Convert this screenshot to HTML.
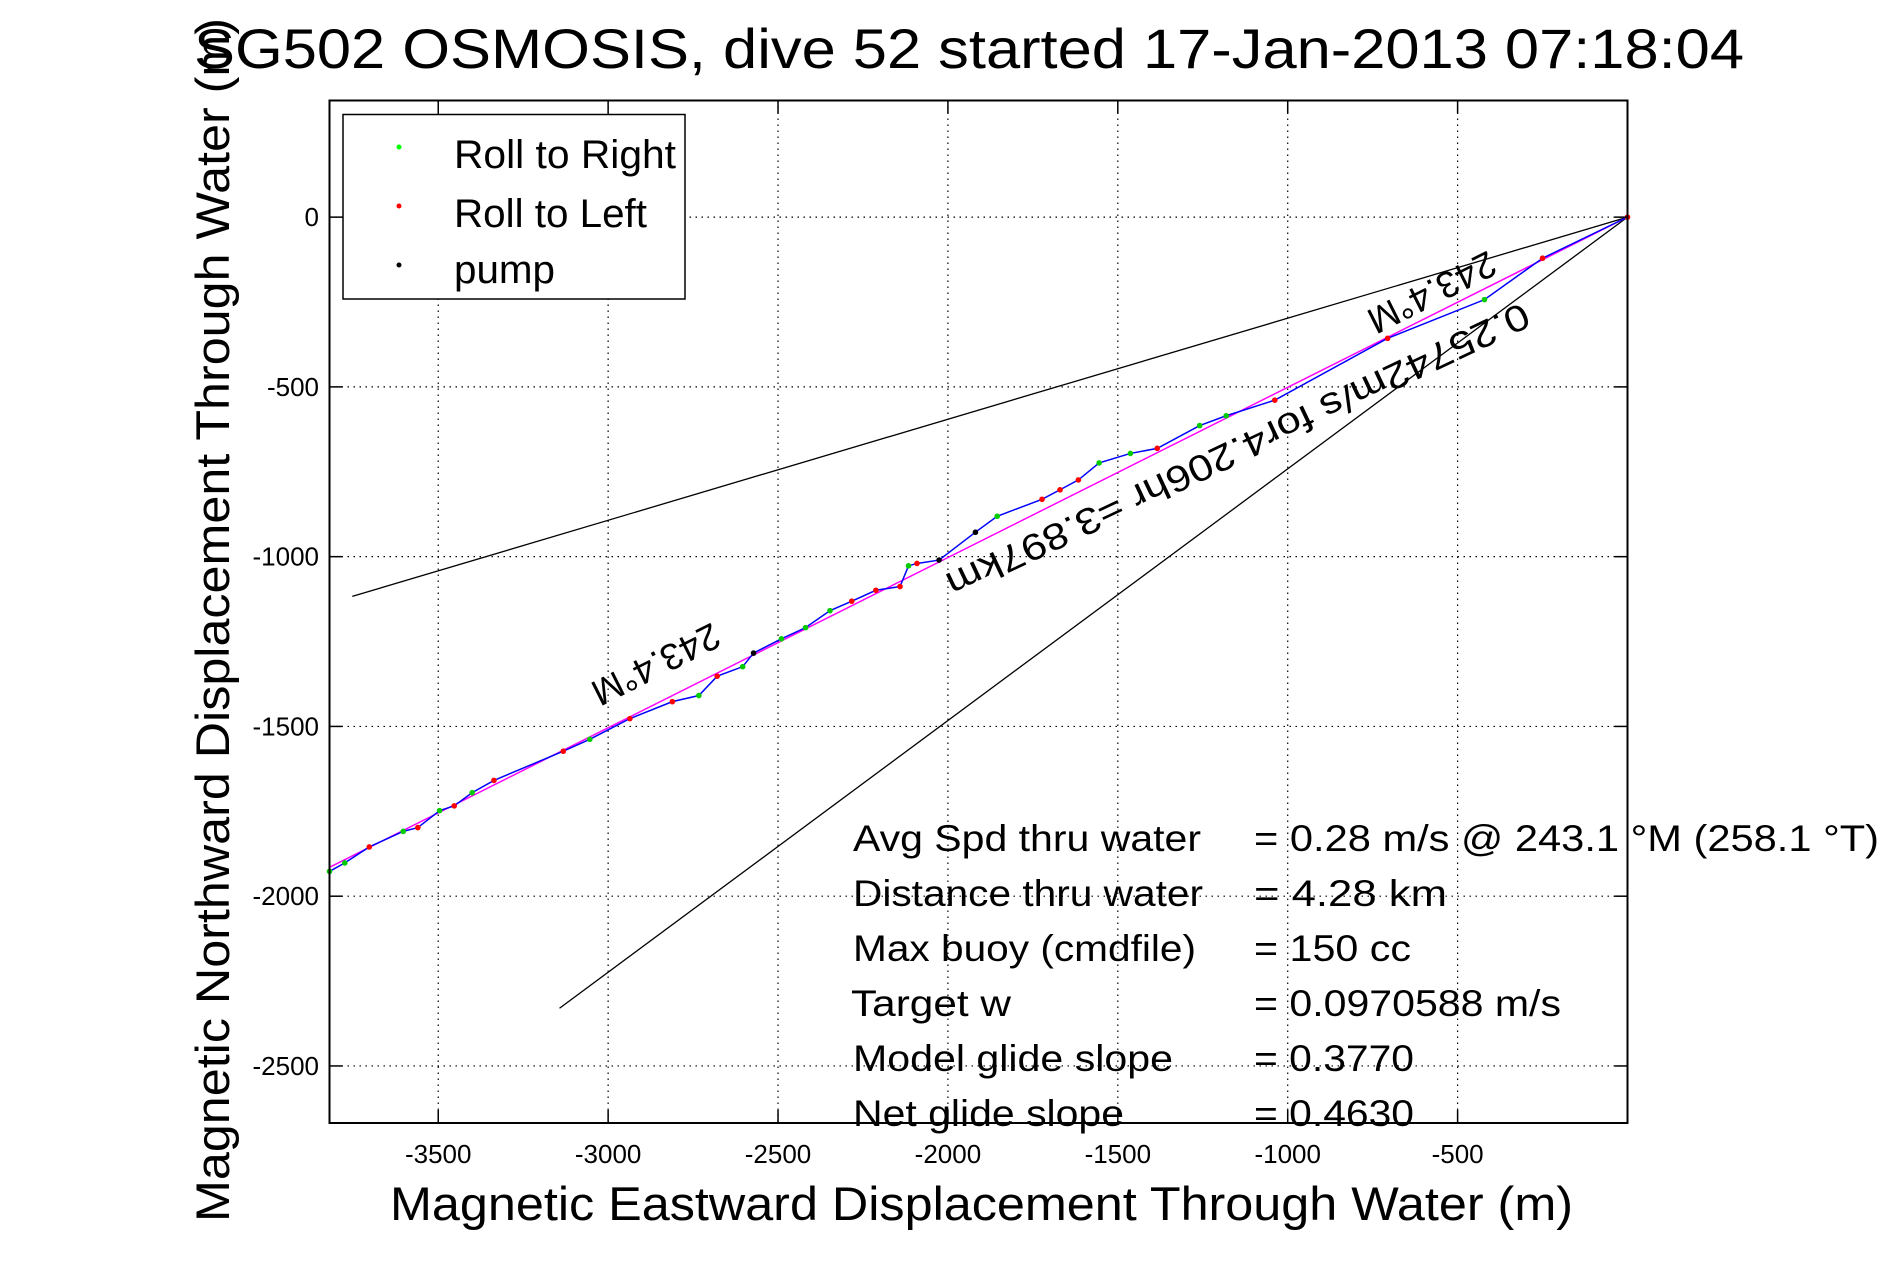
<!DOCTYPE html>
<html><head><meta charset="utf-8"><style>
html,body{margin:0;padding:0;background:#fff;}
svg{display:block;font-family:"Liberation Sans",sans-serif;}
</style></head><body>
<svg id="chart" width="1891" height="1262" viewBox="0 0 1891 1262">
<rect x="0" y="0" width="1891" height="1262" fill="#fff"/>
<g id="grid"></g>
<g id="lines"></g>
<g id="ticks"></g>
<rect x="329.5" y="100.5" width="1298" height="1022.5" fill="none" stroke="#000" stroke-width="2"/>
<text x="194" y="68" font-size="56" textLength="1550" lengthAdjust="spacingAndGlyphs">SG502 OSMOSIS, dive 52 started 17-Jan-2013 07:18:04</text>
<text x="390" y="1220" font-size="47" textLength="1183" lengthAdjust="spacingAndGlyphs">Magnetic Eastward Displacement Through Water (m)</text>
<text transform="translate(229,1222) rotate(-90)" font-size="47" textLength="1204" lengthAdjust="spacingAndGlyphs">Magnetic Northward Displacement Through Water (m)</text>
<g>
<rect x="343" y="114.5" width="342" height="184.5" fill="#fff" stroke="#000" stroke-width="1.5"/>
<circle cx="399" cy="147" r="2.5" fill="#0f0"/>
<text x="454" y="168" font-size="40" textLength="222" lengthAdjust="spacingAndGlyphs">Roll to Right</text>
<circle cx="399" cy="206" r="2.5" fill="#f00"/>
<text x="454" y="227" font-size="40" textLength="193" lengthAdjust="spacingAndGlyphs">Roll to Left</text>
<circle cx="399" cy="265" r="2.5" fill="#000"/>
<text x="454" y="283" font-size="40" textLength="101" lengthAdjust="spacingAndGlyphs">pump</text>
</g>
<g font-size="37">
<text x="853" y="851" textLength="348" lengthAdjust="spacingAndGlyphs">Avg Spd thru water</text>
<text x="1254" y="851" textLength="625" lengthAdjust="spacingAndGlyphs">=  0.28 m/s @ 243.1 °M (258.1 °T)</text>
<text x="853" y="906" textLength="350" lengthAdjust="spacingAndGlyphs">Distance thru water</text>
<text x="1254" y="906" textLength="193" lengthAdjust="spacingAndGlyphs">=  4.28 km</text>
<text x="853" y="961" textLength="343" lengthAdjust="spacingAndGlyphs">Max buoy (cmdfile)</text>
<text x="1254" y="961" textLength="157" lengthAdjust="spacingAndGlyphs">= 150 cc</text>
<text x="851" y="1016" textLength="160" lengthAdjust="spacingAndGlyphs">Target w</text>
<text x="1254" y="1016" textLength="307" lengthAdjust="spacingAndGlyphs">= 0.0970588 m/s</text>
<text x="853" y="1071" textLength="320" lengthAdjust="spacingAndGlyphs">Model glide slope</text>
<text x="1254" y="1071" textLength="160" lengthAdjust="spacingAndGlyphs">= 0.3770</text>
<text x="853" y="1126" textLength="271" lengthAdjust="spacingAndGlyphs">Net glide slope</text>
<text x="1254" y="1126" textLength="160" lengthAdjust="spacingAndGlyphs">= 0.4630</text>
</g>
<text transform="translate(712,622) rotate(153.3)" font-size="37">243.4°M</text>
<text transform="translate(1488,250) rotate(153.3)" font-size="37">243.4°M</text>
<text transform="translate(1522,302) rotate(154.7)" font-size="37" textLength="640" lengthAdjust="spacingAndGlyphs">0.25742m/s for4.206hr =3.897km</text>
</svg>
<script>
const xTicks=[-3500,-3000,-2500,-2000,-1500,-1000,-500];
const yTicks=[0,-500,-1000,-1500,-2000,-2500];
const trackX=[-3820,-3775,-3703,-3603,-3560,-3496,-3453,-3400,-3336,-3132,-3054,-2936,-2811,-2733,-2679,-2604,-2572,-2490,-2419,-2347,-2283,-2212,-2141,-2116,-2091,-2026,-1919,-1855,-1723,-1670,-1616,-1555,-1463,-1384,-1259,-1181,-1038,-706,-421,-250,0];
const trackY=[-1927,-1902,-1855,-1809,-1798,-1748,-1734,-1695,-1659,-1573,-1538,-1477,-1427,-1409,-1352,-1324,-1284,-1242,-1209,-1159,-1131,-1099,-1088,-1027,-1020,-1010,-928,-881,-831,-803,-774,-724,-696,-681,-614,-585,-539,-357,-243,-121,0];
const markerType=[1,1,2,1,2,1,2,1,2,2,1,2,2,1,2,1,0,1,1,1,2,2,2,1,2,0,0,1,2,2,2,1,1,2,1,1,2,2,1,2,2];
const headingEnd=[-3820,-1915];
const upperEnd=[-3753,-1117];
const lowerEnd=[-3143,-2330];
const NS='http://www.w3.org/2000/svg';
const X0=-3820,X1=0,Y0=343.5,Y1=-2668;
const L=329.5,R=1627.5,T=100.5,B=1123;
function sx(v){return L+(v-X0)/(X1-X0)*(R-L);}
function sy(v){return T+(Y0-v)/(Y0-Y1)*(B-T);}
function mk(tag,attrs,parent){const e=document.createElementNS(NS,tag);for(const k in attrs)e.setAttribute(k,attrs[k]);parent.appendChild(e);return e;}
const grid=document.getElementById('grid'),ticks=document.getElementById('ticks'),lines=document.getElementById('lines');
xTicks.forEach(v=>{
 const g=mk('line',{x1:sx(v),x2:sx(v),y1:T,y2:B,stroke:'#000','stroke-width':1.2,'stroke-dasharray':'1.5 4.5'},grid);
 
 
 const t=mk('text',{x:sx(v),y:1163,'font-size':26,'text-anchor':'middle'},ticks);
 t.textContent=v;
 
 
 const m1=mk('line',{x1:sx(v),x2:sx(v),y1:B,y2:B-13,stroke:'#000','stroke-width':1.5},ticks);
 
 
 const m2=mk('line',{x1:sx(v),x2:sx(v),y1:T,y2:T+13,stroke:'#000','stroke-width':1.5},ticks);
 
 
});
yTicks.forEach(v=>{
 const g=mk('line',{x1:L,x2:R,y1:sy(v),y2:sy(v),stroke:'#000','stroke-width':1.2,'stroke-dasharray':'1.5 4.5'},grid);
 
 
 const t=mk('text',{x:319,y:sy(v)+9,'font-size':26,'text-anchor':'end'},ticks);
 t.textContent=v;
 
 
 const m1=mk('line',{x1:L,x2:L+13,y1:sy(v),y2:sy(v),stroke:'#000','stroke-width':1.5},ticks);
 
 
 const m2=mk('line',{x1:R,x2:R-13,y1:sy(v),y2:sy(v),stroke:'#000','stroke-width':1.5},ticks);
 
 
});
const up=mk('line',{x1:sx(0),y1:sy(0),x2:sx(upperEnd[0]),y2:sy(upperEnd[1]),stroke:'#000','stroke-width':1.3},lines);


const lo=mk('line',{x1:sx(0),y1:sy(0),x2:sx(lowerEnd[0]),y2:sy(lowerEnd[1]),stroke:'#000','stroke-width':1.3},lines);


const hd=mk('line',{x1:sx(0),y1:sy(0),x2:sx(headingEnd[0]),y2:sy(headingEnd[1]),stroke:'#f0f','stroke-width':1.5},lines);


const tr=mk('polyline',{points:trackX.map((x,i)=>sx(x)+','+sy(trackY[i])).join(' '),fill:'none',stroke:'#00f','stroke-width':1.5},lines);


const cols=['#000','#0c0','#f00'];
trackX.forEach((x,i)=>{
 const c=mk('circle',{cx:sx(x),cy:sy(trackY[i]),r:2.8,fill:cols[markerType[i]]},lines);
 
 
});
</script>
</body></html>
